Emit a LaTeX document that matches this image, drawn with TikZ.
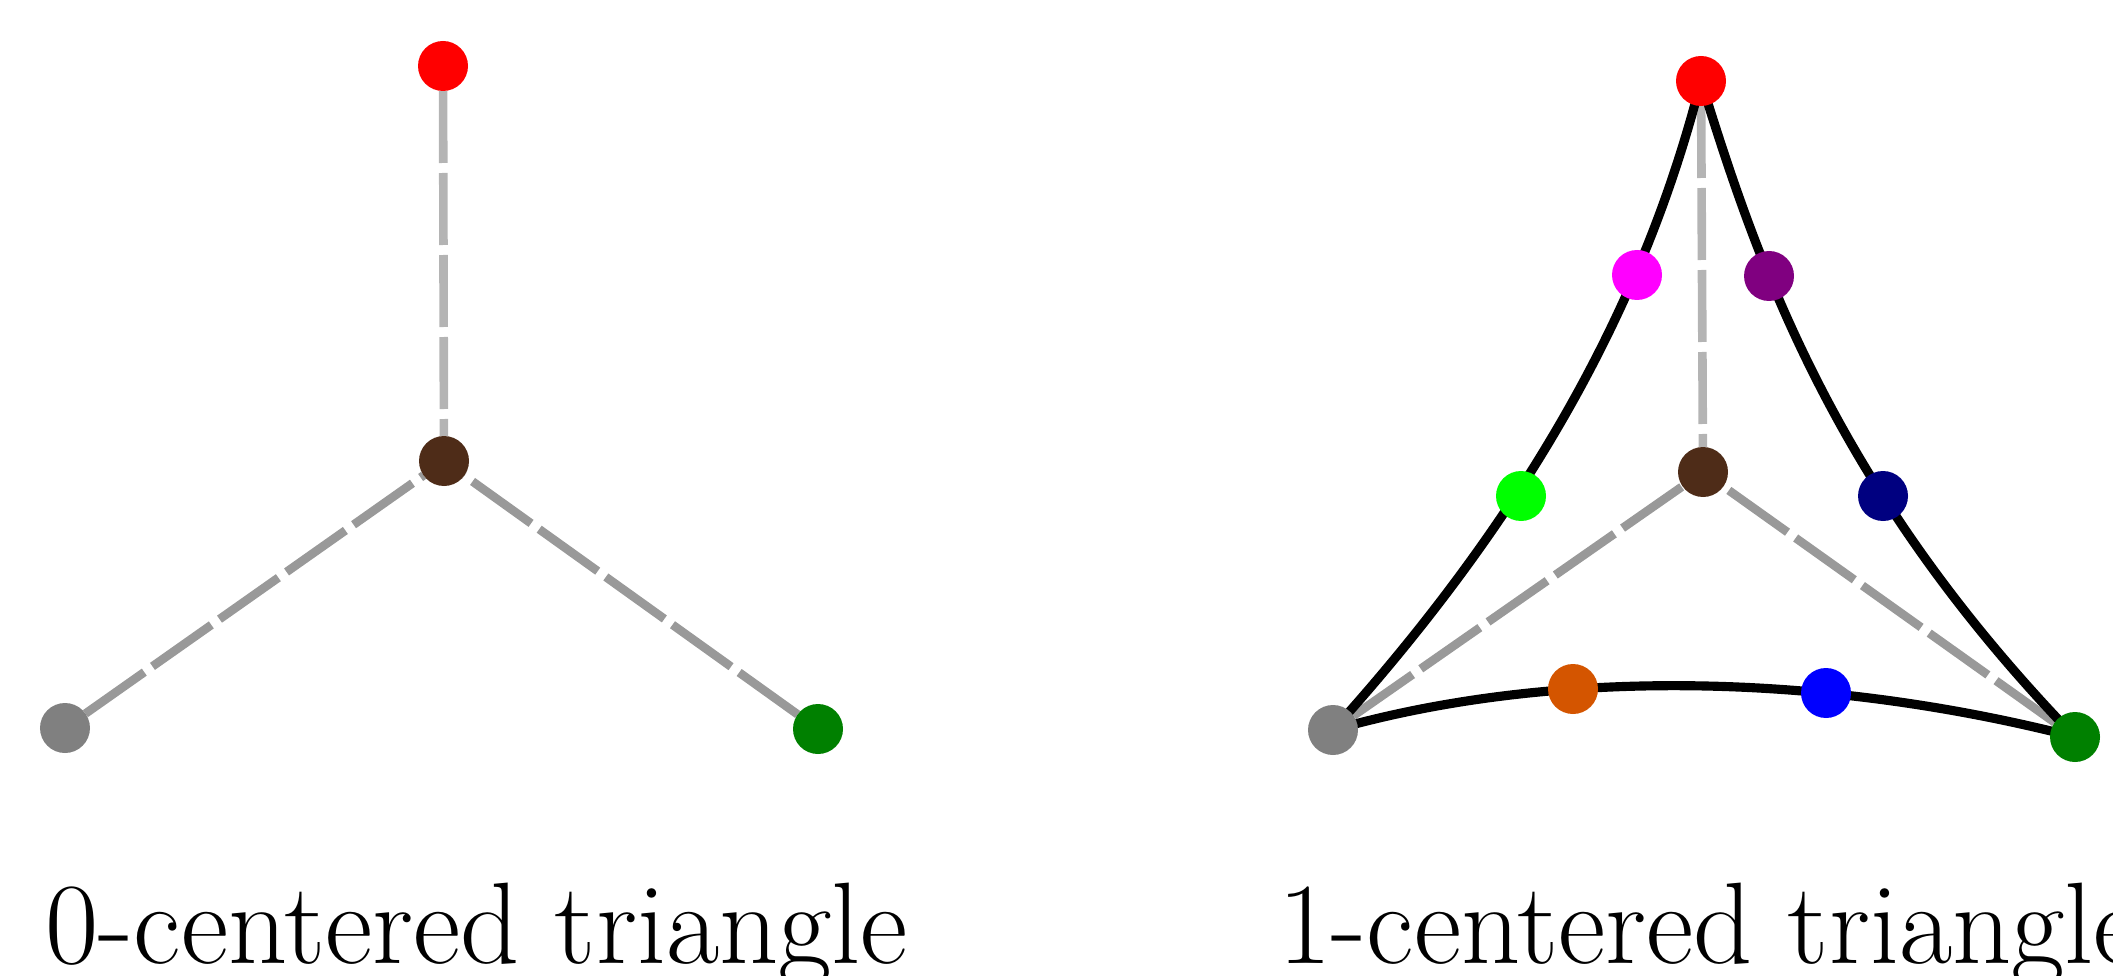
\documentclass[tikz,border=0pt]{standalone}
\usetikzlibrary{backgrounds}
\definecolor{dotred}{RGB}{255,0,0}
\definecolor{dotbrown}{RGB}{78,44,24}
\definecolor{dotgray}{RGB}{128,128,128}
\definecolor{dotgreen}{RGB}{0,128,0}
\definecolor{dotorange}{RGB}{212,85,0}
\definecolor{dotmagenta}{RGB}{255,0,255}
\definecolor{dotpurple}{RGB}{128,0,128}
\definecolor{dotlime}{RGB}{0,255,0}
\definecolor{dotnavy}{RGB}{0,0,128}
\definecolor{dotblue}{RGB}{0,0,255}
\definecolor{spokelight}{RGB}{180,180,180}
\definecolor{spokedark}{RGB}{153,153,153}
\tikzset{
  dot/.style={circle, inner sep=0pt, outer sep=0pt, minimum size=0.5cm, fill=#1},
  spoke/.style={draw=#1, line width=2.45pt, dash pattern=on 0.72cm off 0.1cm},
  edgecurve/.style={draw=black, line width=2.6pt},
  caption/.style={anchor=base west, inner sep=0pt, font=\fontsize{33}{40}\selectfont}
}
\begin{document}
\begin{tikzpicture}
\useasboundingbox (0,0) rectangle (21.13,9.75);
% left: 0-centered
\node[dot=dotred] (lr) at (4.43,9.09) {};
\node[dot=dotbrown] (lc) at (4.44,5.14) {};
\node[dot=dotgray] (lg) at (0.65,2.47) {};
\node[dot=dotgreen] (lgr) at (8.18,2.46) {};
% right: 1-centered
\node[dot=dotred] (rr) at (17.01,8.94) {};
\node[dot=dotmagenta] (rm) at (16.37,7.00) {};
\node[dot=dotpurple] (rp) at (17.69,6.99) {};
\node[dot=dotlime] (rl) at (15.21,4.79) {};
\node[dot=dotbrown] (rc) at (17.03,5.03) {};
\node[dot=dotnavy] (rn) at (18.83,4.79) {};
\node[dot=dotgray] (rg) at (13.33,2.45) {};
\node[dot=dotorange] (ro) at (15.73,2.86) {};
\node[dot=dotblue] (rb) at (18.26,2.82) {};
\node[dot=dotgreen] (rgr) at (20.75,2.38) {};
\begin{scope}[on background layer]
  \draw[spoke=spokelight] (lr) -- (lc);
  \draw[spoke=spokedark] (lg) -- (lc);
  \draw[spoke=spokedark] (lgr) -- (lc);
  \draw[spoke=spokelight] (rr) -- (rc);
  \draw[spoke=spokedark] (rg) -- (rc);
  \draw[spoke=spokedark] (rgr) -- (rc);
  \draw[edgecurve] (rr.center) .. controls (16.56,7.18) and (15.64,5.01) .. (rg.center);
  \draw[edgecurve] (rr.center) .. controls (17.57,7.13) and (18.33,4.88) .. (rgr.center);
  \draw[edgecurve] (rg.center) .. controls (15.61,3.10) and (18.34,3.00) .. (rgr.center);
\end{scope}
\node[caption] (lcap) at (0.45,0.12) {0-centered triangle};
\node[caption] (rcap) at (12.78,0.12) {1-centered triangle};
\end{tikzpicture}
\end{document}
